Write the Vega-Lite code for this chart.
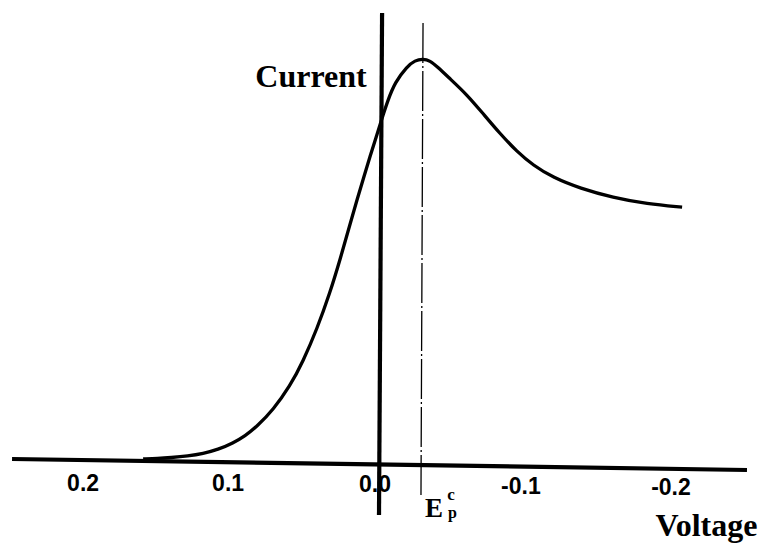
{
  "$schema": "https://vega.github.io/schema/vega-lite/v6.json",
  "width": 769,
  "height": 545,
  "autosize": "none",
  "padding": 0,
  "background": "white",
  "config": {"view": {"stroke": null}},
  "datasets": {
    "curve": [
      {"V": 0.1584, "I": 1.25}, {"V": 0.1485, "I": 1.375}, {"V": 0.1397, "I": 1.6},
      {"V": 0.1278, "I": 2.0}, {"V": 0.1176, "I": 2.6}, {"V": 0.1074, "I": 3.6},
      {"V": 0.0971, "I": 5.25}, {"V": 0.089, "I": 7.0}, {"V": 0.0808, "I": 9.4},
      {"V": 0.0699, "I": 13.5}, {"V": 0.0583, "I": 19.5}, {"V": 0.0495, "I": 25.6},
      {"V": 0.0399, "I": 33.8}, {"V": 0.0311, "I": 42.8}, {"V": 0.0243, "I": 51.0},
      {"V": 0.0174, "I": 60.0}, {"V": 0.0127, "I": 66.0}, {"V": 0.0079, "I": 71.9},
      {"V": 0.0038, "I": 76.9}, {"V": -0.0003, "I": 81.6}, {"V": -0.0037, "I": 85.7},
      {"V": -0.0084, "I": 91.0}, {"V": -0.0132, "I": 95.4}, {"V": -0.0214, "I": 99.4},
      {"V": -0.0268, "I": 100.9}, {"V": -0.0323, "I": 101.3}, {"V": -0.0371, "I": 100.8},
      {"V": -0.0418, "I": 99.4}, {"V": -0.0507, "I": 96.3}, {"V": -0.0623, "I": 92.3},
      {"V": -0.0732, "I": 87.6}, {"V": -0.0847, "I": 82.6}, {"V": -0.0963, "I": 78.1},
      {"V": -0.1072, "I": 74.7}, {"V": -0.1209, "I": 71.6}, {"V": -0.1393, "I": 68.9},
      {"V": -0.1617, "I": 66.6}, {"V": -0.1849, "I": 65.0}, {"V": -0.2088, "I": 64.2}
    ],
    "thickLines": [
      {"name": "voltage axis", "V": 0.2477, "I": 1.25, "V2": -0.253, "I2": -1.5},
      {"name": "current axis", "V": -0.0044, "I": 112.75, "V2": -0.0023, "I2": -12.75}
    ],
    "peakLine": [
      {"name": "Ep", "V": -0.0323, "I": 110.25, "V2": -0.0309, "I2": -7.75}
    ],
    "ticks": [
      {"label": "0.2", "V": 0.1993, "I": -5.0},
      {"label": "0.1", "V": 0.1005, "I": -5.0},
      {"label": "0.0", "V": 0.0004, "I": -5.25},
      {"label": "-0.1", "V": -0.099, "I": -5.75},
      {"label": "-0.2", "V": -0.2012, "I": -6.0}
    ],
    "titles": [
      {"label": "Current", "V": 0.044, "I": 94.25},
      {"label": "Voltage", "V": -0.2254, "I": -18.0}
    ],
    "epE": [{"label": "E", "V": -0.0398, "I": -13.25}],
    "epSup": [{"label": "c", "V": -0.0514, "I": -9.0}],
    "epSub": [{"label": "p", "V": -0.0524, "I": -13.5}]
  },
  "encoding": {
    "x": {"field": "V", "type": "quantitative", "axis": null,
          "scale": {"domain": [-0.268, 0.2559], "reverse": true, "nice": false, "zero": false}},
    "y": {"field": "I", "type": "quantitative", "axis": null,
          "scale": {"domain": [-20.25, 116], "nice": false, "zero": false}}
  },
  "layer": [
    {
      "data": {"name": "peakLine"},
      "mark": {"type": "rule", "color": "black", "strokeWidth": 1.3, "strokeDash": [40, 3, 2, 3]},
      "encoding": {"x2": {"field": "V2"}, "y2": {"field": "I2"}}
    },
    {
      "data": {"name": "thickLines"},
      "mark": {"type": "rule", "color": "black", "strokeWidth": 4.2, "strokeCap": "butt"},
      "encoding": {"x2": {"field": "V2"}, "y2": {"field": "I2"}}
    },
    {
      "data": {"name": "curve"},
      "mark": {"type": "line", "color": "black", "strokeWidth": 3.3, "interpolate": "basis"},
      "encoding": {}
    },
    {
      "data": {"name": "ticks"},
      "mark": {"type": "text", "font": "Liberation Sans", "fontWeight": "bold", "fontSize": 23,
               "align": "center", "baseline": "middle", "color": "black"},
      "encoding": {"text": {"field": "label"}}
    },
    {
      "data": {"name": "titles"},
      "mark": {"type": "text", "font": "Liberation Serif", "fontWeight": "bold", "fontSize": 32,
               "align": "center", "baseline": "alphabetic", "color": "black"},
      "encoding": {"text": {"field": "label"}}
    },
    {
      "data": {"name": "epE"},
      "mark": {"type": "text", "font": "Liberation Serif", "fontWeight": "bold", "fontSize": 27,
               "align": "center", "baseline": "alphabetic", "color": "black"},
      "encoding": {"text": {"field": "label"}}
    },
    {
      "data": {"name": "epSup"},
      "mark": {"type": "text", "font": "Liberation Serif", "fontWeight": "bold", "fontSize": 17,
               "align": "center", "baseline": "alphabetic", "color": "black"},
      "encoding": {"text": {"field": "label"}}
    },
    {
      "data": {"name": "epSub"},
      "mark": {"type": "text", "font": "Liberation Serif", "fontWeight": "bold", "fontSize": 16,
               "align": "center", "baseline": "alphabetic", "color": "black"},
      "encoding": {"text": {"field": "label"}}
    }
  ]
}
